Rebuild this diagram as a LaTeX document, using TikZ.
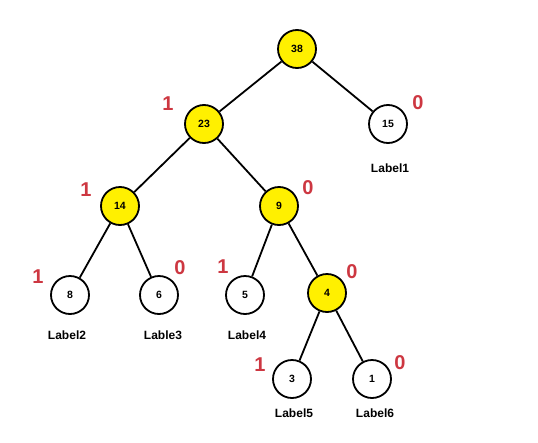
\documentclass[tikz,border=0pt]{standalone}
\usepackage{fontspec}
\setmainfont{Liberation Sans}
\definecolor{nodeyellow}{RGB}{255,240,0}
\definecolor{bitred}{RGB}{205,55,65}
\tikzset{
  tnode/.style={circle,draw=black,line width=1.8pt,minimum size=38pt,inner sep=0pt,font=\fontsize{10.5}{11}\selectfont\bfseries},
  hot/.style={tnode,fill=nodeyellow},
  leaf/.style={tnode,fill=white},
  bit/.style={text=bitred,font=\fontsize{20}{22}\selectfont\bfseries},
  lbl/.style={font=\fontsize{12}{13}\selectfont\bfseries},
  edge/.style={line width=1.8pt}
}
\begin{document}
\begin{tikzpicture}[x=1pt,y=-1pt]
\useasboundingbox (0,0) rectangle (538,442);
\node[hot]  (n38) at (297,49) {38};
\node[hot]  (n23) at (204,124) {23};
\node[leaf] (n15) at (388,124) {15};
\node[hot]  (n14) at (120,206) {14};
\node[hot]  (n9)  at (279,206) {9};
\node[leaf] (n8)  at (70,295) {8};
\node[leaf] (n6)  at (159,295) {6};
\node[leaf] (n5)  at (245,295) {5};
\node[hot]  (n4)  at (327,293) {4};
\node[leaf] (n3)  at (292,379) {3};
\node[leaf] (n1)  at (372,379) {1};
\draw[edge] (n38) -- (n23);
\draw[edge] (n38) -- (n15);
\draw[edge] (n23) -- (n14);
\draw[edge] (n23) -- (n9);
\draw[edge] (n14) -- (n8);
\draw[edge] (n14) -- (n6);
\draw[edge] (n9) -- (n5);
\draw[edge] (n9) -- (n4);
\draw[edge] (n4) -- (n3);
\draw[edge] (n4) -- (n1);
\node[bit] (b23) at (168,104) {1};
\node[bit] (b15) at (418,103) {0};
\node[bit] (b14) at (86,190) {1};
\node[bit] (b9)  at (308,188) {0};
\node[bit] (b8)  at (38,277) {1};
\node[bit] (b6)  at (180,268) {0};
\node[bit] (b5)  at (223,267) {1};
\node[bit] (b4)  at (352,272) {0};
\node[bit] (b3)  at (260,365) {1};
\node[bit] (b1)  at (400,363) {0};
\node[lbl] (l1) at (390,168) {Label1};
\node[lbl] (l2) at (67,335) {Label2};
\node[lbl] (l3) at (163,335) {Lable3};
\node[lbl] (l4) at (247,335) {Label4};
\node[lbl] (l5) at (294,413) {Label5};
\node[lbl] (l6) at (375,413) {Label6};
\end{tikzpicture}
\end{document}
